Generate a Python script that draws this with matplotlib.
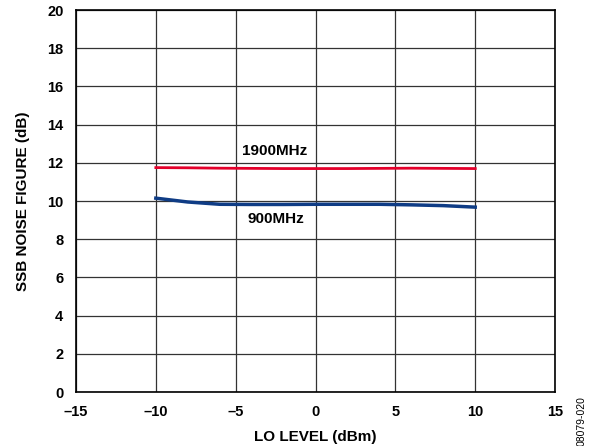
import matplotlib

matplotlib.use("Agg")
import matplotlib.pyplot as plt

# LO level sweep (dBm) and SSB noise figure (dB)
lo_level = [-10, -8, -6, -4, -2, 0, 2, 4, 6, 8, 10]
nf_1900 = [11.75, 11.74, 11.72, 11.71, 11.70, 11.70, 11.70, 11.71, 11.72, 11.71, 11.70]
nf_900 = [10.15, 9.95, 9.83, 9.82, 9.82, 9.83, 9.83, 9.83, 9.80, 9.76, 9.68]

RED = "#E4002B"
BLUE = "#0F3C85"

plt.rcParams.update({
    "font.family": ["Liberation Sans", "DejaVu Sans"],
    "font.weight": "bold",
    "font.size": 10,
})

fig = plt.figure(figsize=(5.9, 4.46), dpi=100)
ax = fig.add_axes([0.1288, 0.121, 0.812, 0.8565])

ax.plot(lo_level, nf_1900, color=RED, lw=2.0)
ax.plot(lo_level, nf_900, color=BLUE, lw=2.5)

ax.text(-2.55, 12.63, "1900MHz", ha="center", va="center", fontweight="bold", fontsize=11)
ax.text(-2.5, 9.05, "900MHz", ha="center", va="center", fontweight="bold", fontsize=11)

ax.set_xlim(-15, 15)
ax.set_ylim(0, 20)
ax.set_xticks(range(-15, 16, 5), ["\u201315", "\u201310", "\u20135", "0", "5", "10", "15"])
ax.set_yticks(range(0, 21, 2))
ax.tick_params(axis="x", length=0, pad=9, labelsize=10.5)
ax.tick_params(axis="y", length=0, pad=9, labelsize=10.5)
for lab in ax.get_xticklabels() + ax.get_yticklabels():
    lab.set_fontweight("bold")
ax.grid(True, color="#333333", lw=0.9)
for s in ax.spines.values():
    s.set_linewidth(1.2)
    s.set_color("black")

ax.set_xlabel("LO LEVEL (dBm)", fontweight="bold", fontsize=11, labelpad=8)
ax.set_ylabel("SSB NOISE FIGURE (dB)", fontweight="bold", fontsize=11, labelpad=12)

fig.text(0.986, 0.112, "08079-020", rotation=90, ha="center", va="top",
         fontsize=7.5, fontweight="normal")

fig.savefig("out.png", dpi=100)
